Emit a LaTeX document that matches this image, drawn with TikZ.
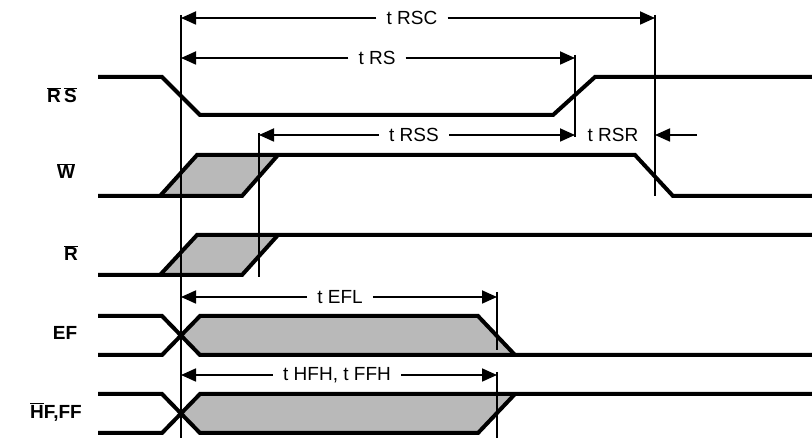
\documentclass[tikz,border=0pt]{standalone}
\usepackage{fontspec}
\setmainfont{Liberation Sans}
\usetikzlibrary{arrows.meta}
\newcommand{\ovl}[1]{$\overline{\mbox{#1}}$}

\begin{document}
\begin{tikzpicture}[x=1pt, y=-1pt,
    sig/.style={line width=4pt},
    shade/.style={fill=gray!55},
    mark line/.style={line width=1.6pt},
    dim/.style={line width=1.8pt, -{Triangle[length=15pt, width=13pt]}},
    tlabel/.style={font=\fontsize{19}{21}\selectfont, inner xsep=10pt, inner ysep=0pt},
    slabel/.style={font=\fontsize{19}{21}\selectfont\bfseries, anchor=center, inner sep=0pt}]

    \useasboundingbox (0, 0) rectangle (812, 438);

    % Signal names
    \node[slabel] (rs) at (62, 95) {\ovl{R}\,\ovl{S}};
    \node[slabel] (w) at (66, 171) {\ovl{W}};
    \node[slabel] (r) at (71, 253) {\ovl{R}};
    \node[slabel] (ef) at (65, 333) {EF};
    \node[slabel, anchor=east] (hf) at (82, 412) {\ovl{H}F,FF};

    % Shaded (unknown) regions
    \fill[shade] (160, 196) -- (197, 155) -- (278, 155) -- (242, 196) -- cycle;
    \fill[shade] (160, 275) -- (197, 235) -- (278, 235) -- (242, 275) -- cycle;
    \fill[shade] (181, 335.5) -- (200, 316) -- (478, 316) -- (515, 355) -- (200, 355) -- cycle;
    \fill[shade] (181, 413.5) -- (200, 394) -- (515, 394) -- (478, 433) -- (200, 433) -- cycle;

    % Waveforms
    \draw[sig] (98, 77) -- (162, 77) -- (200, 115) -- (553, 115) -- (595, 77) -- (812, 77);
    \draw[sig] (98, 196) -- (242, 196) -- (278, 155);
    \draw[sig] (160, 196) -- (197, 155) -- (635, 155) -- (673, 196) -- (812, 196);
    \draw[sig] (98, 275) -- (242, 275) -- (278, 235);
    \draw[sig] (160, 275) -- (197, 235) -- (812, 235);
    \draw[sig] (98, 316) -- (162, 316) -- (200, 355) -- (812, 355);
    \draw[sig] (98, 355) -- (162, 355) -- (200, 316) -- (478, 316) -- (515, 355);
    \draw[sig] (98, 394) -- (162, 394) -- (200, 433) -- (478, 433) -- (515, 394);
    \draw[sig] (98, 433) -- (162, 433) -- (200, 394) -- (812, 394);

    % Reference lines
    \coordinate (a1) at (181, 15);   \coordinate (a2) at (181, 438);
    \coordinate (b1) at (259, 133);  \coordinate (b2) at (259, 277);
    \coordinate (c1) at (575, 55);   \coordinate (c2) at (575, 137);
    \coordinate (d1) at (655, 15);   \coordinate (d2) at (655, 196);
    \coordinate (e1) at (497, 292);  \coordinate (e2) at (497, 350);
    \coordinate (f1) at (497, 372);  \coordinate (f2) at (497, 438);
    \foreach \p in {a, b, c, d, e, f}
        \draw[mark line] (\p1) -- (\p2);

    % Timing parameters
    \node[tlabel] (trsc) at (412, 18) {t RSC};
    \draw[dim] (trsc.west) -- (trsc.west -| a1);
    \draw[dim] (trsc.east) -- (trsc.east -| d1);

    \node[tlabel] (trs) at (377, 58) {t RS};
    \draw[dim] (trs.west) -- (trs.west -| a1);
    \draw[dim] (trs.east) -- (trs.east -| c1);

    \node[tlabel] (trss) at (414, 135) {t RSS};
    \draw[dim] (trss.west) -- (trss.west -| b1);
    \draw[dim] (trss.east) -- (trss.east -| c1);

    \node[tlabel, inner xsep=2pt] (trsr) at (613, 135) {t RSR};
    \coordinate (trsr-in) at (697, 135);
    \draw[dim] (trsr-in) -- (trsr-in -| d1);

    \node[tlabel] (tefl) at (340, 297) {t EFL};
    \draw[dim] (tefl.west) -- (tefl.west -| a1);
    \draw[dim] (tefl.east) -- (tefl.east -| e1);

    \node[tlabel] (thfh) at (337, 375) {t HFH, t FFH};
    \draw[dim] (thfh.west) -- (thfh.west -| a1);
    \draw[dim] (thfh.east) -- (thfh.east -| f1);

\end{tikzpicture}
\end{document}
